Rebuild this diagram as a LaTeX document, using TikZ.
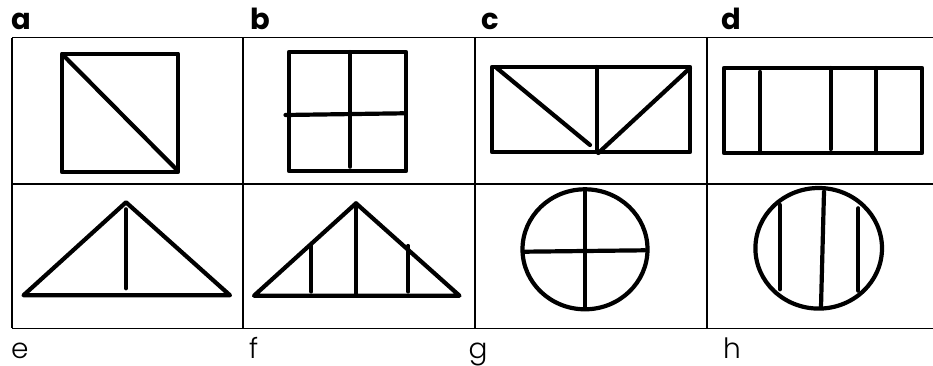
\documentclass[tikz,border=0pt]{standalone}
\usepackage{fontspec}
\setsansfont{Poppins}
\newfontfamily\lightsans{Poppins}[UprightFont=* Light]
\usepackage{tikz}

\begin{document}
\begin{tikzpicture}[x=1pt,y=-1pt,
  grid/.style={line width=1.3pt},
  fig/.style={line width=4.2pt,line cap=round,line join=round},
  top/.style={anchor=base west,inner sep=0pt,font=\sffamily\bfseries\fontsize{29}{29}\selectfont},
  bot/.style={anchor=base west,inner sep=0pt,font=\lightsans\fontsize{28}{28}\selectfont}]
\useasboundingbox (0,0) rectangle (933,366);
% table
\draw[grid] (12,37.7) -- (933,37.7) (12,184) -- (933,184) (12,328.3) -- (933,328.3);
\foreach \x in {12,243,475,707} \draw[grid] (\x,37.7) -- (\x,328.3);
% labels
\node[top] (la) at (11,30) {a};
\node[top] (lb) at (250,30) {b};
\node[top] (lc) at (481.5,30) {c};
\node[top] (ld) at (721,30) {d};
\node[bot] (le) at (11,358) {e};
\node[bot] (lf) at (249,358) {f};
\node[bot] (lg) at (468.5,358) {g};
\node[bot] (lh) at (723,358) {h};
% a
\draw[fig] (62,53.7) rectangle (178,172);
\draw[fig] (65,57) -- (177,170);
% b
\draw[fig] (289,52) rectangle (406,171);
\draw[fig] (350,52) -- (350,166.7);
\draw[fig] (285.5,115) -- (403.5,113.3);
% c
\draw[fig] (492,67) rectangle (690,152);
\draw[fig] (596.7,67) -- (596.7,152);
\draw[fig] (496.7,68) -- (590,145);
\draw[fig] (690,68) -- (598.3,153);
% d
\draw[fig] (724,68) rectangle (922,153);
\draw[fig] (760,72) -- (760,153);
\draw[fig] (830.7,68) -- (830.7,149);
\draw[fig] (876,68) -- (876,153);
% e
\draw[fig] (23.5,295.3) -- (126,202.3) -- (230,295.3) -- cycle;
\draw[fig] (126,209.3) -- (126,288.3);
% f
\draw[fig] (254,295.7) -- (356,203.3) -- (459.5,295.7) -- cycle;
\draw[fig] (356,203.3) -- (356,295.7);
\draw[fig] (311.3,245) -- (311.3,291.5);
\draw[fig] (408.3,246) -- (408.3,291.5);
% g
\draw[fig] (585,249.3) ellipse [x radius=62.5,y radius=60];
\draw[fig] (585,190) -- (585,309);
\draw[fig] (525,251.7) -- (645,250.3);
% h
\draw[fig] (818.7,248.3) ellipse [x radius=63.3,y radius=60.3];
\draw[fig] (780,205) -- (780,289.3);
\draw[fig] (824,191.7) -- (821,306.7);
\draw[fig] (858.3,208.3) -- (858.3,290.7);
\end{tikzpicture}
\end{document}
